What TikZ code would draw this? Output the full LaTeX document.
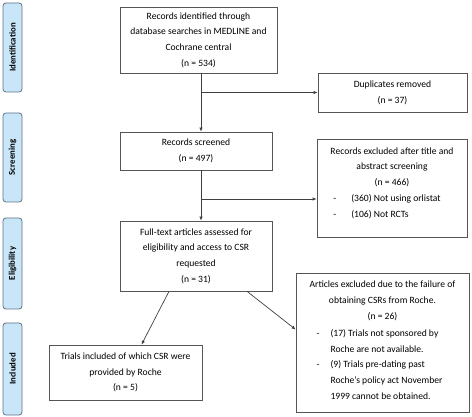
\documentclass[tikz,border=0pt]{standalone}
\usepackage{fontspec}
\setmainfont{Carlito}
\usetikzlibrary{arrows.meta}

\definecolor{barfill}{RGB}{200,230,248}
\definecolor{bardraw}{RGB}{95,115,135}
\definecolor{boxdraw}{RGB}{85,85,85}

\tikzset{
  stagebar/.style={draw=bardraw, fill=barfill, rounded corners=3pt, line width=0.8pt,
    minimum height=19pt, inner sep=0pt, rotate=90,
    font=\fontsize{8.8}{10}\selectfont\bfseries},
  flowbox/.style={draw=boxdraw, line width=0.7pt, align=center, inner sep=0pt,
    font=\fontsize{9.6}{15.7}\selectfont},
  arr/.style={draw=black!75, line width=0.7pt, -{Latex[length=4pt,width=3.5pt]}}
}

\begin{document}
\begin{tikzpicture}[x=1pt, y=-1pt]
        \useasboundingbox (0,0) rectangle (472,417);

        % Stage bars on the left
        \node[stagebar, minimum width=89pt] (identification) at (12.5,47.5) {Identification};
        \node[stagebar, minimum width=89pt] (screening) at (12.5,157.5) {Screening};
        \node[stagebar, minimum width=91pt] (eligibility) at (12.5,263.5) {Eligibility};
        \node[stagebar, minimum width=92pt] (included) at (12.5,369) {Included};

        % Main column
        \node[flowbox, minimum width=157pt, minimum height=66pt] (ident) at (198.5,40)
            {Records identified through\\database searches in MEDLINE and\\Cochrane central\\(n = 534)};
        \node[flowbox, minimum width=152pt, minimum height=38pt] (screen) at (196,151)
            {Records screened\\(n = 497)};
        \node[flowbox, minimum width=152pt, minimum height=70pt] (full) at (196,256)
            {Full-text articles assessed for\\eligibility and access to CSR\\requested\\(n = 31)};
        \node[flowbox, minimum width=153pt, minimum height=55pt] (incl) at (125.5,372.5)
            {Trials included of which CSR were\\provided by Roche\\(n = 5)};

        % Exclusion boxes on the right
        \node[flowbox, minimum width=149pt, minimum height=39pt] (dup) at (392.5,92.5)
            {Duplicates removed\\(n = 37)};
        \node[flowbox, minimum width=150pt, minimum height=98pt] (excl) at (392,188)
            {Records excluded after title and\\abstract screening\\(n = 466)\\[3pt]
             \hspace*{-10pt}\begin{tabular}{@{}l@{\hspace{15pt}}l@{}}
             - & (360) Not using orlistat\\
             - & (106) Not RCTs
             \end{tabular}\\[4pt]};
        \node[flowbox, minimum width=173pt, minimum height=139pt] (art) at (382.5,342.5)
            {Articles excluded due to the failure of\\obtaining CSRs from Roche.\\(n = 26)\\[4pt]
             \hspace*{-6pt}\begin{tabular}{@{}l@{\hspace{11pt}}l@{}}
             - & (17) Trials not sponsored by\\
               & Roche are not available.\\
             - & (9) Trials pre-dating past\\
               & Roche’s policy act November\\
               & 1999 cannot be obtained.
             \end{tabular}};

        % Connectors
        \coordinate (spine) at (201,0);
        \coordinate (excl-in) at ([yshift=-11pt]excl.west);
        \draw[arr] (ident.south -| spine) -- (screen.north -| spine);
        \draw[arr] (spine |- dup.west) -- (dup.west);
        \draw[arr] (screen.south -| spine) -- (full.north -| spine);
        \draw[arr] (spine |- excl-in) -- (excl-in);
        \draw[arr] ([xshift=-27pt]full.south) -- ([xshift=16pt]incl.north);
        \draw[arr] ([xshift=51pt]full.south) -- ([yshift=13pt]art.west);
\end{tikzpicture}
\end{document}
